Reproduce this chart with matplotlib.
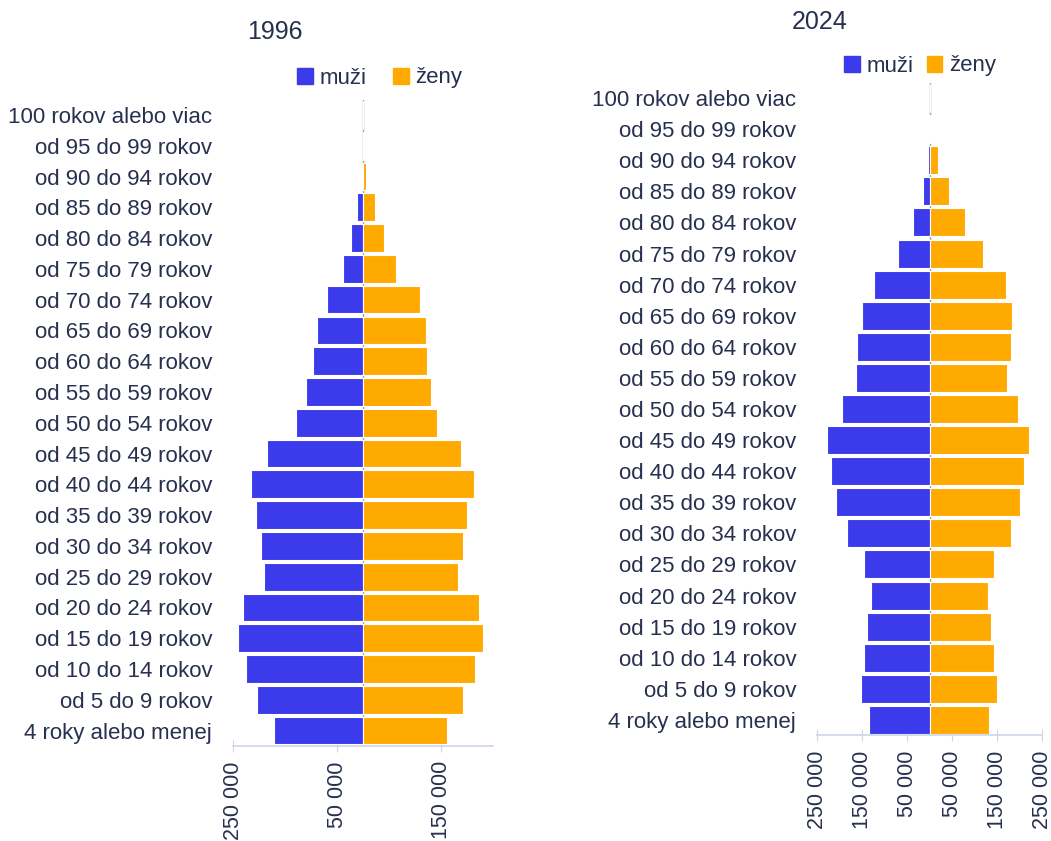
import matplotlib
matplotlib.use("Agg")
import matplotlib.pyplot as plt
from matplotlib.patches import Patch
from matplotlib.ticker import FuncFormatter

plt.rcParams['font.family'] = ['Liberation Sans', 'DejaVu Sans']

# age groups, from youngest to oldest
vekove_skupiny = [
    "4 roky alebo menej", "od 5 do 9 rokov", "od 10 do 14 rokov",
    "od 15 do 19 rokov", "od 20 do 24 rokov", "od 25 do 29 rokov",
    "od 30 do 34 rokov", "od 35 do 39 rokov", "od 40 do 44 rokov",
    "od 45 do 49 rokov", "od 50 do 54 rokov", "od 55 do 59 rokov",
    "od 60 do 64 rokov", "od 65 do 69 rokov", "od 70 do 74 rokov",
    "od 75 do 79 rokov", "od 80 do 84 rokov", "od 85 do 89 rokov",
    "od 90 do 94 rokov", "od 95 do 99 rokov", "100 rokov alebo viac",
]

# 1996 (estimated from the picture)
muzi_1996 = [171000, 204000, 225000, 240000, 230000, 190000, 196000, 206000,
             215000, 185000, 129000, 110000, 97000, 88000, 70000, 38000,
             23000, 11000, 2500, 500, 50]
zeny_1996 = [162000, 193000, 215000, 230000, 223000, 183000, 192000, 200000,
             213000, 189000, 143000, 130000, 124000, 122000, 110000, 63000,
             40000, 23000, 6000, 1200, 100]

# 2024 (estimated from the picture)
muzi_2024 = [134000, 153000, 146000, 139000, 130000, 146000, 184000, 207000,
             219000, 228000, 195000, 164000, 162000, 150000, 123000, 71000,
             37000, 15000, 4500, 800, 50]
zeny_2024 = [133000, 149000, 144000, 137000, 129000, 144000, 180000, 201000,
             210000, 221000, 196000, 173000, 180000, 184000, 170000, 119000,
             79000, 43000, 19000, 3500, 300]

modra = '#3b3bec'
oranzova = '#ffaa00'
text_farba = '#28304f'
os_farba = '#ccd6eb'


def pyramida(ax, muzi, zeny, ticks):
    y = range(len(vekove_skupiny))
    ax.axvline(0, color='#a0a0a0', lw=1, zorder=1)
    ax.barh(y, [-v for v in muzi], height=0.9, color=modra,
            edgecolor='white', linewidth=0.8, zorder=2)
    ax.barh(y, zeny, height=0.9, color=oranzova,
            edgecolor='white', linewidth=0.8, zorder=2)
    ax.set_ylim(-0.5, len(vekove_skupiny) - 0.5)
    ax.set_xlim(-250000, 250000)
    ax.set_yticks(list(y))
    ax.set_yticklabels(vekove_skupiny, fontsize=16, color=text_farba)
    ax.tick_params(axis='y', length=0, pad=15)
    ax.set_xticks(ticks)
    ax.xaxis.set_major_formatter(
        FuncFormatter(lambda v, p: f"{abs(int(v)):,}".replace(',', ' ')))
    ax.tick_params(axis='x', labelrotation=90, labelsize=15.5,
                   labelcolor=text_farba, color=os_farba,
                   direction='inout', length=8, pad=7)
    for s in ['left', 'right', 'top']:
        ax.spines[s].set_visible(False)
    ax.spines['bottom'].set_color(os_farba)
    ax.spines['bottom'].set_linewidth(1.2)


fig = plt.figure(figsize=(10.51, 8.41), dpi=100)

ax1 = fig.add_axes([0.2217, 0.1130, 0.2474, 0.7686])
pyramida(ax1, muzi_1996, zeny_1996, [-250000, -50000, 150000])

ax2 = fig.add_axes([0.7774, 0.1255, 0.2141, 0.7764])
pyramida(ax2, muzi_2024, zeny_2024,
         [-250000, -150000, -50000, 50000, 150000, 250000])

fig.text(275 / 1051, 1 - 32 / 841, '1996', ha='center', va='center',
         fontsize=18, color=text_farba)
fig.text(820 / 1051, 1 - 22 / 841, '2024', ha='center', va='center',
         fontsize=18, color=text_farba)

handles = [Patch(color=modra, label='muži'), Patch(color=oranzova, label='ženy')]
fig.legend(handles=handles, ncol=2, loc='center', frameon=False,
           bbox_to_anchor=(380 / 1051, 1 - 78 / 841), fontsize=16,
           handlelength=0.7, handleheight=0.7, handletextpad=0.3,
           columnspacing=1.2, labelcolor=text_farba)
fig.legend(handles=handles, ncol=2, loc='center', frameon=False,
           bbox_to_anchor=(920 / 1051, 1 - 66 / 841), fontsize=16,
           handlelength=0.7, handleheight=0.7, handletextpad=0.3,
           columnspacing=0.6, labelcolor=text_farba)

fig.savefig('out.png', dpi=100)
